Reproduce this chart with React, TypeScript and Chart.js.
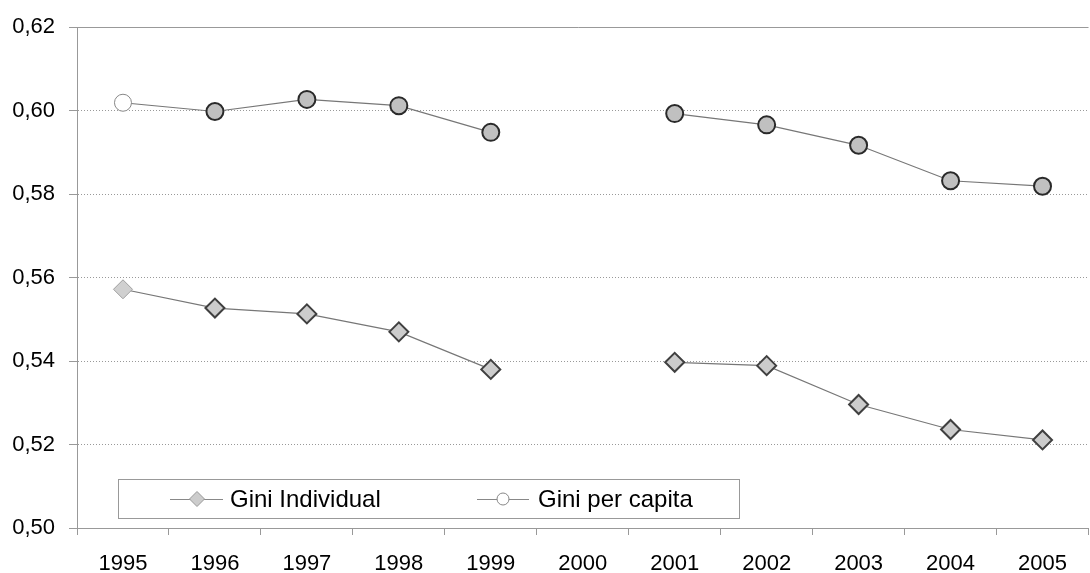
import React, { useEffect, useRef } from "react";
import { Chart, registerables } from "chart.js";

Chart.register(...registerables);

const years = ["1995", "1996", "1997", "1998", "1999", "2000", "2001", "2002", "2003", "2004", "2005"];
const giniIndividual = [0.5572, 0.5527, 0.5513, 0.547, 0.538, null, 0.5397, 0.5389, 0.5296, 0.5236, 0.5211];
const giniPerCapita = [0.6019, 0.5998, 0.6027, 0.6012, 0.5948, null, 0.5993, 0.5966, 0.5917, 0.5832, 0.5819];
const yTicks = [0.5, 0.52, 0.54, 0.56, 0.58, 0.6, 0.62];
const legendLabels = ["Gini Individual", "Gini per capita"];

const FONT = "'Liberation Sans', Arial, sans-serif";

const topLinePlugin = {
  id: "topLine",
  beforeDatasetsDraw(chart: any) {
    const { ctx, chartArea } = chart;
    ctx.save();
    ctx.strokeStyle = "#999";
    ctx.lineWidth = 1;
    ctx.beginPath();
    ctx.moveTo(chartArea.left - 8, Math.round(chartArea.top) + 0.5);
    ctx.lineTo(chartArea.right, Math.round(chartArea.top) + 0.5);
    ctx.stroke();
    ctx.restore();
  },
};

const legendPlugin = {
  id: "boxLegend",
  afterDatasetsDraw(chart: any) {
    const { ctx } = chart;
    ctx.save();
    ctx.fillStyle = "#fff";
    ctx.fillRect(118.5, 479.5, 621, 39);
    ctx.strokeStyle = "#999";
    ctx.lineWidth = 1;
    ctx.strokeRect(118.5, 479.5, 621, 39);
    const cy = 499;
    ctx.strokeStyle = "#888";
    ctx.beginPath();
    ctx.moveTo(170, cy + 0.5);
    ctx.lineTo(223, cy + 0.5);
    ctx.stroke();
    ctx.beginPath();
    ctx.moveTo(197 - 7.5, cy);
    ctx.lineTo(197, cy - 7.5);
    ctx.lineTo(197 + 7.5, cy);
    ctx.lineTo(197, cy + 7.5);
    ctx.closePath();
    ctx.fillStyle = "#cccccc";
    ctx.fill();
    ctx.strokeStyle = "#999";
    ctx.stroke();
    ctx.strokeStyle = "#888";
    ctx.beginPath();
    ctx.moveTo(477, cy + 0.5);
    ctx.lineTo(529, cy + 0.5);
    ctx.stroke();
    ctx.beginPath();
    ctx.arc(503, cy, 6, 0, Math.PI * 2);
    ctx.fillStyle = "#fff";
    ctx.fill();
    ctx.strokeStyle = "#888";
    ctx.stroke();
    ctx.fillStyle = "#000";
    ctx.font = `24px ${FONT}`;
    ctx.textBaseline = "middle";
    ctx.textAlign = "left";
    ctx.fillText(legendLabels[0], 230, cy + 1);
    ctx.fillText(legendLabels[1], 538, cy + 1);
    ctx.restore();
  },
};

export default function App() {
  const ref = useRef<HTMLCanvasElement | null>(null);
  useEffect(() => {
    if (!ref.current) return;
    const chart = new Chart(ref.current, {
      type: "line",
      data: {
        labels: years,
        datasets: [
          {
            label: legendLabels[0],
            data: giniIndividual,
            borderColor: "#777",
            borderWidth: 1.2,
            pointStyle: "rectRot",
            pointRadius: 9.5,
            pointBackgroundColor: years.map((_, i) => (i === 0 ? "#d0d0d0" : "#cccccc")),
            pointBorderColor: years.map((_, i) => (i === 0 ? "#a0a0a0" : "#404040")),
            pointBorderWidth: years.map((_, i) => (i === 0 ? 1 : 2)),
            spanGaps: false,
          },
          {
            label: legendLabels[1],
            data: giniPerCapita,
            borderColor: "#777",
            borderWidth: 1.2,
            pointStyle: "circle",
            pointRadius: 8.5,
            pointBackgroundColor: years.map((_, i) => (i === 0 ? "#ffffff" : "#c0c0c0")),
            pointBorderColor: years.map((_, i) => (i === 0 ? "#888888" : "#2a2a2a")),
            pointBorderWidth: years.map((_, i) => (i === 0 ? 1 : 2)),
            spanGaps: false,
          },
        ],
      },
      options: {
        animation: false,
        responsive: false,
        maintainAspectRatio: false,
        layout: { padding: { top: 23, left: 0, right: 0, bottom: 0 } },
        plugins: { legend: { display: false }, tooltip: { enabled: false } },
        scales: {
          x: {
            type: "category",
            offset: true,
            grid: { offset: true, drawOnChartArea: false, tickLength: 7, color: "#999", tickColor: "#999" },
            border: { display: true, color: "#999", width: 1 },
            ticks: { color: "#000", font: { family: FONT, size: 22 }, padding: 16, maxRotation: 0, autoSkip: false },
            afterFit: (s: any) => {
              s.height = 45;
            },
          },
          y: {
            min: yTicks[0],
            max: yTicks[yTicks.length - 1],
            afterBuildTicks: (s: any) => {
              s.ticks = yTicks.map((v) => ({ value: v }));
            },
            grid: { color: "#999", lineWidth: 1, tickLength: 8, tickColor: "#999", tickBorderDash: [] },
            border: { display: true, color: "#999", width: 1, dash: [1, 2] },
            ticks: {
              color: "#000",
              font: { family: FONT, size: 22 },
              padding: 14,
              callback: (v: any) => Number(v).toFixed(2).replace(".", ","),
            },
            afterFit: (s: any) => {
              s.width = 77;
            },
          },
        },
      },
      plugins: [topLinePlugin, legendPlugin],
    });
    return () => chart.destroy();
  }, []);
  return (
    <div style={{ position: "fixed", left: 0, top: 0, width: 1090, height: 573, overflow: "hidden", background: "#fff" }}>
      <canvas ref={ref} width={1100} height={573} style={{ display: "block" }} />
    </div>
  );
}
